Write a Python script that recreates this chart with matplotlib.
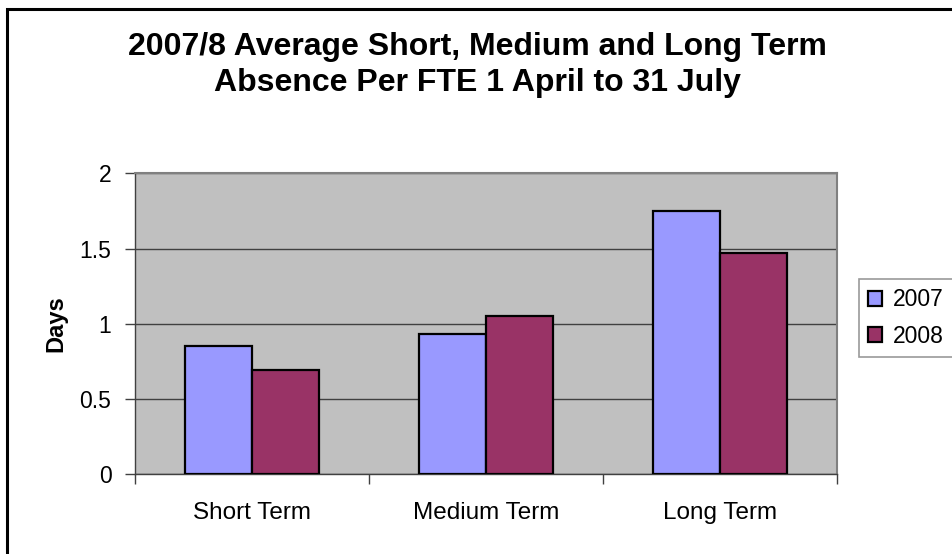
import matplotlib.pyplot as plt
import numpy as np
from matplotlib.patches import Rectangle

categories = ['Short Term', 'Medium Term', 'Long Term']
series_names = ['2007', '2008']
days_2007 = [0.85, 0.93, 1.75]
days_2008 = [0.69, 1.05, 1.47]
colors = ['#9999FF', '#993366']
title_lines = ['2007/8 Average Short, Medium and Long Term',
               'Absence Per FTE 1 April to 31 July']

plt.rcParams['font.family'] = ['Liberation Sans', 'DejaVu Sans']

W, H = 952, 554
fig = plt.figure(figsize=(W / 100, H / 100), dpi=100)
ax = fig.add_axes([135 / W, 1 - 474.3 / H, (837 - 135) / W, (474.3 - 173.3) / H])
ax.set_facecolor('#C0C0C0')

x = np.arange(len(categories))
bw = 0.286
ax.bar(x - bw / 2, days_2007, bw, color=colors[0], edgecolor='black', linewidth=1.6,
       label=series_names[0], zorder=3)
ax.bar(x + bw / 2, days_2008, bw, color=colors[1], edgecolor='black', linewidth=1.6,
       label=series_names[1], zorder=3)

ax.set_xlim(-0.5, len(categories) - 0.5)
ax.set_ylim(0, 2)
ax.set_yticks([0, 0.5, 1, 1.5, 2])
ax.set_yticklabels(['0', '0.5', '1', '1.5', '2'])
ax.yaxis.grid(True, color='#404040', linewidth=1, zorder=1)
ax.set_axisbelow(True)

# category labels centred, tick marks between categories
ax.set_xticks(np.arange(-0.5, len(categories)), minor=False)
ax.set_xticklabels([])
ax.set_xticks(x, minor=True)
ax.set_xticklabels(categories, minor=True, fontsize=17.5)
ax.tick_params(axis='x', which='minor', length=0, pad=20)
ax.tick_params(axis='x', which='major', length=7, width=1, color='#404040', direction='out')
ax.tick_params(axis='y', length=7, width=1, color='#404040', labelsize=16.5, pad=10)

for s in ['top', 'right']:
    ax.spines[s].set_color('#808080')
    ax.spines[s].set_linewidth(1.5)
for s in ['left', 'bottom']:
    ax.spines[s].set_color('#404040')
    ax.spines[s].set_linewidth(1)

ax.set_ylabel('Days', fontsize=17, fontweight='bold', labelpad=9)

leg = ax.legend(loc='upper left', bbox_to_anchor=(859 / W, 1 - 279 / H),
                bbox_transform=fig.transFigure, fontsize=16.5, frameon=True,
                fancybox=False, edgecolor='#808080', handlelength=0.62,
                handleheight=0.62, handletextpad=0.45, borderpad=0.4,
                labelspacing=0.6, borderaxespad=0)
leg.get_frame().set_linewidth(1.2)

cx = 477 / W
fig.text(cx, 1 - 47 / H, title_lines[0], ha='center', va='center',
         fontsize=23, fontweight='bold')
fig.text(cx, 1 - 83 / H, title_lines[1], ha='center', va='center',
         fontsize=23, fontweight='bold')

fig.patches.append(Rectangle((7 / W, -0.1), 1.2, 1 - 9 / H + 0.1, transform=fig.transFigure,
                             fill=False, edgecolor='black', linewidth=2.2))

fig.savefig('out.png', dpi=100)
